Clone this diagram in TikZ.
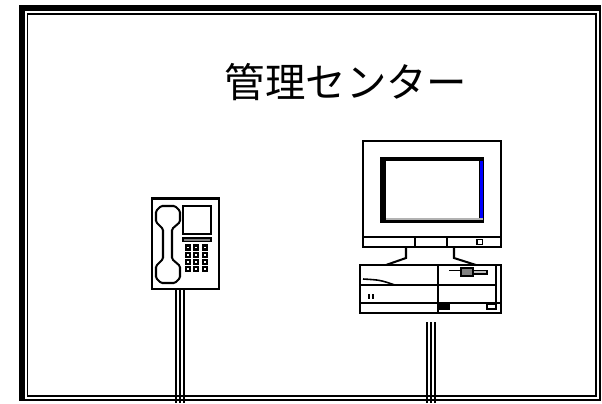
\documentclass[tikz,border=0pt]{standalone}
\usepackage{fontspec}
\newfontfamily\jpfont{Noto Sans CJK JP}

\begin{document}
\begin{tikzpicture}[x=0.02cm,y=-0.02cm,
    thin line/.style={line width=0.9pt},
    mid line/.style={line width=1.15pt},
    pole/.style={line width=1.3pt},
    key/.style={line width=1.2pt}]
        \useasboundingbox (0,0) rectangle (602,403);
        % ramminn
        \fill (19,5) rectangle (601,11);
        \fill (19,5) rectangle (25,401);
        \draw [mid line] (600,5) -- (600,400) -- (19,400);
        \draw [thin line] (27.5,14) rectangle (596,396);
        % fyrirsögn
        \node (title) at (346,82) {\jpfont\fontsize{23}{23}\selectfont 管理センター};
        % sími
        \draw [pole] (176,289) -- (176,403);
        \draw [pole] (180,289) -- (180,403);
        \draw [pole] (184,289) -- (184,403);
        \draw [mid line, fill=white] (152,198.5) rectangle (219,289);
        \draw [mid line, rounded corners=0.8pt] (163,229) -- (156,222) -- (156,211) -- (161,206)
            -- (175,206) -- (180,211) -- (180,222) -- (172,229) -- (172,259) -- (180,266)
            -- (180,278) -- (175,283) -- (161,283) -- (156,278) -- (156,266) -- (163,259) -- cycle;
        \draw [mid line] (183,206) rectangle (211,234);
        \draw [thin line, fill=gray] (183,238) rectangle (211,241.5);
        \foreach \i in {0,1,2}
            \foreach \j in {0,1,2,3}
                \draw [key] (186+8.3*\i,245.5+7.3*\j) rectangle +(4,4);
        % skjár
        \draw [mid line] (363,141) rectangle (501,237);
        \fill (380,157) rectangle (484,223);
        \fill [white] (386,161) rectangle (479,218);
        \fill [blue] (479.5,161) rectangle (482.5,220);
        \fill [gray!60] (386,218.3) rectangle (482.5,220);
        \draw [mid line] (363,237) rectangle (501,247);
        \draw [mid line] (415,237) -- (415,247);
        \draw [mid line] (447,237) -- (447,247);
        \draw [thin line] (477,239.5) rectangle (482.5,244.5);
        % fótur
        \draw [mid line] (406,247) -- (406,258) -- (386,265);
        \draw [mid line] (454,247) -- (454,258) -- (476,265);
        % tölvukassi
        \draw [mid line] (360,265) rectangle (501,313);
        \draw [mid line] (438,265) -- (438,313);
        \draw [thin line] (496,265) -- (496,309);
        \draw [thin line] (360,285) -- (496,285);
        \draw [line width=1.6pt] (360,303) -- (501,303);
        \draw [thin line] (363,279) .. controls (380,280) .. (395,285);
        \fill (368,294) rectangle (370,299);
        \fill (372,294) rectangle (374,299);
        \draw [thin line] (449,270.7) -- (487,270.7);
        \draw [thin line, fill=gray] (461,268) rectangle (473,276);
        \draw [thin line, fill=gray!50] (473,270.7) rectangle (487,274);
        \fill (438,303) rectangle (450,310);
        \draw [thin line] (487,304) rectangle (496,309);
        % staur
        \draw [pole] (427,322) -- (427,403);
        \draw [pole] (431,322) -- (431,403);
        \draw [pole] (435,322) -- (435,403);
    \end{tikzpicture}
\end{document}
